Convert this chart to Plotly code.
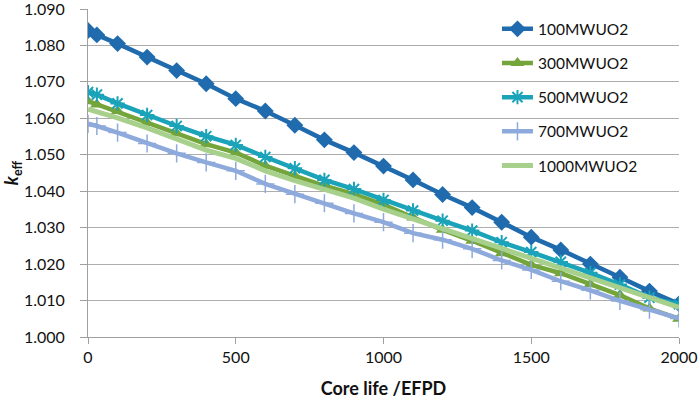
import plotly.graph_objects as go

core_life = [0, 30, 100, 200, 300, 400, 500, 600, 700, 800, 900, 1000,
             1100, 1200, 1300, 1400, 1500, 1600, 1700, 1800, 1900, 2000]

k_100 = [1.0841, 1.0829, 1.0805, 1.0768, 1.0731, 1.0695, 1.0654, 1.0620, 1.0581, 1.0541, 1.0506,
         1.0469, 1.0431, 1.0391, 1.0355, 1.0315, 1.0274, 1.0239, 1.0200, 1.0164, 1.0126, 1.0091]
k_300 = [1.0647, 1.0638, 1.0620, 1.0588, 1.0559, 1.0529, 1.0506, 1.0470, 1.0442, 1.0415, 1.0392,
         1.0363, 1.0328, 1.0294, 1.0264, 1.0230, 1.0198, 1.0175, 1.0145, 1.0115, 1.0078, 1.0050]
k_500 = [1.0672, 1.0665, 1.0641, 1.0609, 1.0579, 1.0551, 1.0527, 1.0494, 1.0463, 1.0431, 1.0406,
         1.0376, 1.0347, 1.0319, 1.0292, 1.0260, 1.0233, 1.0206, 1.0176, 1.0144, 1.0108, 1.0090]
k_700 = [1.0585, 1.0579, 1.0561, 1.0531, 1.0504, 1.0479, 1.0456, 1.0420, 1.0392, 1.0367, 1.0339,
         1.0315, 1.0285, 1.0267, 1.0242, 1.0210, 1.0184, 1.0153, 1.0128, 1.0099, 1.0075, 1.0051]
k_1000 = [1.0625, 1.0618, 1.0601, 1.0574, 1.0542, 1.0513, 1.0490, 1.0456, 1.0429, 1.0406, 1.0381,
          1.0351, 1.0324, 1.0298, 1.0271, 1.0243, 1.0216, 1.0188, 1.0160, 1.0133, 1.0106, 1.0081]

series_names = ["100MWUO2", "300MWUO2", "500MWUO2", "700MWUO2", "1000MWUO2"]
x_ticks = [0, 500, 1000, 1500, 2000]
y_ticks = [1.000, 1.010, 1.020, 1.030, 1.040, 1.050, 1.060, 1.070, 1.080, 1.090]

fig = go.Figure()

styles = [
    dict(color="#1F6BAE", symbol="diamond", size=13, mline=0),
    dict(color="#74A53B", symbol="triangle-up", size=12, mline=0),
    dict(color="#1AA3B9", symbol="asterisk-open", size=12, mline=2),
    dict(color="#8EAADC", symbol="cross-thin-open", size=13, mline=1.5),
    dict(color="#A8D08D", symbol=None, size=0, mline=0),
]
data = [k_100, k_300, k_500, k_700, k_1000]

for i, (name, ys, st) in enumerate(zip(series_names, data, styles)):
    if st["symbol"] is None:
        mode = "lines"
        marker = None
        width = 5
    else:
        mode = "lines+markers"
        marker = dict(symbol=st["symbol"], size=st["size"], color=st["color"],
                      line=dict(color=st["color"], width=st["mline"]))
        width = 4.5
    fig.add_trace(go.Scatter(
        x=core_life, y=ys, name=name, mode=mode,
        line=dict(color=st["color"], width=width),
        marker=marker, legendgroup=name,
    ))

fig.update_layout(
    width=699, height=399,
    margin=dict(l=88, r=20, t=9, b=62, autoexpand=False),
    paper_bgcolor="white", plot_bgcolor="white",
    font=dict(family="Lato, Open Sans, sans-serif", size=15, color="#111"),
    showlegend=True,
    legend=dict(x=0.692, y=0.99, xanchor="left", yanchor="top",
                bgcolor="rgba(0,0,0,0)", tracegroupgap=11, itemwidth=31,
                font=dict(size=15.5)),
    xaxis=dict(range=[0, 2000], tickvals=x_ticks, ticks="outside", ticklen=6,
               tickcolor="#A0A0A0", showline=True, linecolor="#A0A0A0", linewidth=1,
               showgrid=False, zeroline=False, ticklabeloverflow="allow",
               tickfont=dict(size=16), automargin=False,
               title=dict(text="<b>Core life /EFPD</b>", standoff=19)),
    yaxis=dict(range=[1.000, 1.090], tickvals=y_ticks, tickformat=".3f",
               ticks="outside", ticklen=7, tickcolor="#A0A0A0",
               showline=True, linecolor="#A0A0A0", linewidth=1,
               showgrid=True, gridcolor="#ADADAD", gridwidth=1, zeroline=False,
               ticklabeloverflow="allow", ticklabelstandoff=12,
               tickfont=dict(size=16), automargin=False,
               title=dict(text="<b><i>k</i><sub>eff</sub></b>", standoff=5)),
)

fig.write_html("out.html", config={"displayModeBar": False},
               post_script="document.body.style.margin='0';")
